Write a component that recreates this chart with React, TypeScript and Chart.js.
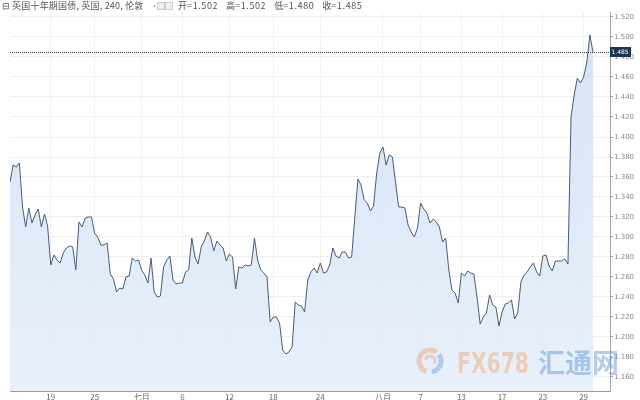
import React, { useEffect, useRef } from "react";
import { Chart, registerables } from "chart.js";

Chart.register(...registerables);

// UK 10-year gilt yield, 240-minute bars (close values)
const closes: number[] = [
  1.355, 1.372, 1.37, 1.374, 1.33, 1.31, 1.329, 1.314, 1.322, 1.328, 1.31, 1.323, 1.311, 1.272,
  1.282, 1.277, 1.274, 1.284, 1.289, 1.291, 1.29, 1.267, 1.315, 1.31, 1.319, 1.32, 1.32, 1.304, 1.3, 1.292, 1.292, 1.294,
  1.263, 1.258, 1.245, 1.249, 1.248, 1.26, 1.261, 1.279, 1.276, 1.277, 1.267, 1.262, 1.254, 1.279, 1.245, 1.24, 1.241,
  1.27, 1.277, 1.281,
  1.257, 1.253, 1.254, 1.254, 1.265, 1.267, 1.299, 1.28, 1.273, 1.29, 1.296, 1.305, 1.3, 1.286, 1.296, 1.292, 1.289, 1.276, 1.283, 1.28,
  1.248, 1.27, 1.269, 1.272, 1.271, 1.272, 1.299, 1.277, 1.267, 1.264, 1.26,
  1.215, 1.22, 1.22, 1.214, 1.187, 1.183, 1.185, 1.19, 1.235, 1.232, 1.231, 1.225, 1.257, 1.265, 1.269, 1.264,
  1.274, 1.264, 1.265, 1.272, 1.289, 1.281, 1.279, 1.285, 1.285, 1.279, 1.28, 1.319, 1.358, 1.352, 1.337, 1.334, 1.326, 1.331,
  1.364, 1.384, 1.39, 1.372, 1.382, 1.38, 1.355, 1.33, 1.33, 1.329, 1.312, 1.305, 1.3, 1.309,
  1.334, 1.328, 1.324, 1.314, 1.318, 1.315, 1.31, 1.295, 1.299, 1.267, 1.247, 1.244, 1.234,
  1.264, 1.261, 1.266, 1.264, 1.263, 1.24, 1.213, 1.22, 1.224, 1.242, 1.232, 1.23, 1.211, 1.225, 1.233, 1.234, 1.237, 1.218, 1.224,
  1.255, 1.262, 1.265, 1.27, 1.274, 1.265, 1.261, 1.281, 1.282, 1.271, 1.266, 1.276, 1.276, 1.276, 1.278, 1.273,
  1.42, 1.442, 1.459, 1.454, 1.46, 1.474, 1.502, 1.485,
];

// bar index where each date label sits
const xTickIndex: number[] = [13, 27, 42, 55, 70, 84, 99, 119, 131, 144, 157, 170, 183];
const xTickLabels: string[] = ["19", "25", "七月", "6", "12", "18", "24", "八月", "7", "13", "17", "23", "29"];

const yTicks: number[] = [1.16, 1.18, 1.2, 1.22, 1.24, 1.26, 1.28, 1.3, 1.32, 1.34, 1.36, 1.38, 1.4, 1.42, 1.44, 1.46, 1.48, 1.5, 1.52];

const seriesName = "英国十年期国债, 英国, 240, 伦敦";
const ohlcLabels: string[] = ["开", "高", "低", "收"];
const ohlcValues: number[] = [1.502, 1.502, 1.48, 1.485];
const lastClose = 1.485;

const Y_MIN = 1.146;
const Y_MAX = 1.525;

export default function App() {
  const ref = useRef<HTMLCanvasElement>(null);

  useEffect(() => {
    const canvas = ref.current!;
    const last = closes.length - 1;

    const priceLine = {
      id: "priceLine",
      afterDatasetsDraw(chart: any) {
        const { ctx, chartArea, scales } = chart;
        const y = Math.round(scales.y.getPixelForValue(lastClose)) + 0.5;
        ctx.save();
        ctx.strokeStyle = "#3a3a3a";
        ctx.lineWidth = 1;
        ctx.setLineDash([1, 1]);
        ctx.beginPath();
        ctx.moveTo(chartArea.left, y);
        ctx.lineTo(chartArea.right, y);
        ctx.stroke();
        ctx.restore();
      },
      afterDraw(chart: any) {
        const { ctx, chartArea, scales } = chart;
        const y = Math.round(scales.y.getPixelForValue(lastClose));
        ctx.save();
        ctx.fillStyle = "#1d3452";
        ctx.fillRect(chartArea.right, y - 5, 21, 10);
        ctx.fillStyle = "#ffffff";
        ctx.font = "6px 'DejaVu Sans'";
        ctx.textBaseline = "middle";
        ctx.textAlign = "left";
        ctx.fillText(lastClose.toFixed(3), chartArea.right + 1.5, y + 0.5, 18);
        ctx.restore();

        // watermark
        ctx.save();
        ctx.globalAlpha = 0.45;
        const cx = 430, cy = 361;
        ctx.lineWidth = 5;
        ctx.strokeStyle = "#e9a070";
        ctx.beginPath();
        ctx.arc(cx, cy, 11, Math.PI * 0.6, Math.PI * 1.7);
        ctx.stroke();
        ctx.strokeStyle = "#6f9fd6";
        ctx.beginPath();
        ctx.arc(cx, cy, 11, Math.PI * 1.8, Math.PI * 0.45);
        ctx.stroke();
        ctx.lineWidth = 3;
        ctx.strokeStyle = "#e9a070";
        ctx.beginPath();
        ctx.arc(cx, cy, 5, Math.PI * 1.1, Math.PI * 2.2);
        ctx.stroke();
        ctx.font = "bold 28px 'DejaVu Sans'";
        ctx.textBaseline = "alphabetic";
        ctx.fillStyle = "#f0a46a";
        ctx.fillText("FX678", 457, 373, 72);
        ctx.font = "bold 27px 'Noto Sans CJK SC'";
        ctx.fillStyle = "#5b8fd3";
        ctx.fillText("汇通网", 538, 373, 84);
        ctx.restore();
      },
    };

    const chart = new Chart(canvas, {
      type: "line",
      data: {
        datasets: [
          {
            data: closes.map((v, i) => ({ x: i, y: v })),
            borderColor: "#4a5b72",
            borderWidth: 1,
            pointRadius: 0,
            tension: 0,
            fill: "start",
            backgroundColor: (c: any) => {
              const area = c.chart.chartArea;
              if (!area) return "rgba(215,230,246,0.7)";
              const g = c.chart.ctx.createLinearGradient(0, area.top, 0, area.bottom);
              g.addColorStop(0, "rgba(205,223,243,0.85)");
              g.addColorStop(1, "rgba(228,238,250,0.85)");
              return g;
            },
          },
        ],
      },
      options: {
        animation: false,
        responsive: true,
        maintainAspectRatio: false,
        layout: { padding: { left: 10, top: 12, right: 0, bottom: 0 } },
        plugins: { legend: { display: false }, tooltip: { enabled: false }, title: { display: false } },
        scales: {
          x: {
            type: "linear",
            min: 0,
            max: (last * 600) / 583,
            afterBuildTicks: (s: any) => {
              s.ticks = xTickIndex.map((v) => ({ value: v }));
            },
            afterFit: (s: any) => {
              s.height = 9;
            },
            ticks: {
              autoSkip: false,
              maxRotation: 0,
              padding: 1,
              color: "#666",
              font: { size: 8, family: "'Noto Sans CJK SC'" },
              callback: (_v: any, i: number) => xTickLabels[i],
            },
            grid: { color: "#f1f1f1", drawTicks: false },
            border: { display: true, color: "#9a9a9a" },
          },
          y: {
            position: "right",
            min: Y_MIN,
            max: Y_MAX,
            afterBuildTicks: (s: any) => {
              s.ticks = yTicks.map((v) => ({ value: v }));
            },
            afterFit: (s: any) => {
              s.width = 30;
            },
            ticks: {
              padding: 1,
              color: "#888",
              font: { size: 7, family: "'DejaVu Sans'" },
              callback: (v: any) => Number(v).toFixed(3),
            },
            grid: { color: "#eeeeee", tickLength: 3, tickColor: "#999" },
            border: { display: true, color: "#a5a5a5" },
          },
        },
      },
      plugins: [priceLine],
    });
    return () => chart.destroy();
  }, []);

  const t = "9px 'Noto Sans CJK SC'";
  return (
    <div style={{ position: "fixed", left: 0, top: 0, width: 640, height: 400, background: "#fff" }}>
      <canvas ref={ref} />
      <div style={{ position: "absolute", left: 2, top: 0, font: t, color: "#555", whiteSpace: "nowrap", lineHeight: "11px" }}>
        ⊟ <span style={{ letterSpacing: "0.2px" }}>{seriesName}</span>
      </div>
      <div style={{ position: "absolute", left: 150, top: 0, font: t, color: "#9b9", lineHeight: "11px" }}>·</div>
      <div style={{ position: "absolute", left: 157, top: 2, width: 6, height: 6, border: "1px solid #ccc", background: "#eee" }} />
      <div style={{ position: "absolute", left: 165, top: 2, width: 6, height: 6, border: "1px solid #ccc", background: "#eee" }} />
      <div style={{ position: "absolute", left: 178, top: 0, font: t, color: "#555", whiteSpace: "nowrap", lineHeight: "11px" }}>
        {ohlcLabels.map((l, i) => (
          <span key={l} style={{ marginRight: 8 }}>
            {l}<span style={{ letterSpacing: "0.6px" }}>={ohlcValues[i].toFixed(3)}</span>
          </span>
        ))}
      </div>
    </div>
  );
}
